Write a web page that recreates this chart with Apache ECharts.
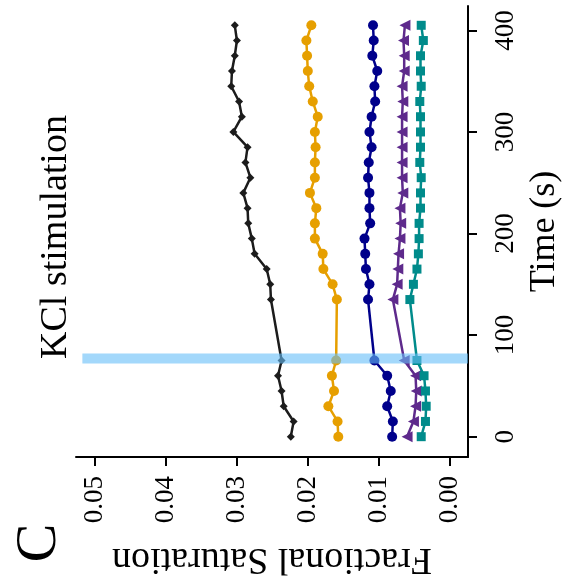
<!DOCTYPE html>
<html>
<head>
<meta charset="utf-8">
<script src="https://cdn.jsdelivr.net/npm/echarts@6/dist/echarts.min.js"></script>
<style>
  html, body { margin: 0; padding: 0; background: #fff; }
  #chart { width: 565px; height: 582px; }
</style>
</head>
<body>
<div id="chart"></div>
<script>
// Sampling times (s)
const times = [0, 15, 30, 45, 60, 75,
  135, 150, 165, 180, 195, 210, 225, 240, 255, 270, 285, 300, 315, 330, 345, 360, 375, 390, 405];

// Fractional saturation per trace
const satBlack = [0.0224, 0.0220, 0.0234, 0.0237, 0.0242, 0.0237,
  0.0252, 0.0253, 0.0258, 0.0275, 0.0279, 0.0284, 0.0285, 0.0291, 0.0281, 0.0288, 0.0285, 0.0305, 0.0293, 0.0297, 0.0308, 0.0307, 0.0303, 0.0300, 0.0303];
const satOrange = [0.0157, 0.0158, 0.0171, 0.0163, 0.0166, 0.0160,
  0.0159, 0.0165, 0.0178, 0.0179, 0.0190, 0.0190, 0.0188, 0.0197, 0.0190, 0.0190, 0.0189, 0.0190, 0.0186, 0.0193, 0.0198, 0.0200, 0.0201, 0.0202, 0.0195];
const satNavy = [0.0081, 0.0080, 0.0088, 0.0083, 0.0088, 0.0106,
  0.0115, 0.0113, 0.0118, 0.0119, 0.0120, 0.0112, 0.0113, 0.0113, 0.0115, 0.0114, 0.0110, 0.0113, 0.0110, 0.0105, 0.0106, 0.0102, 0.0109, 0.0107, 0.0108];
const satPurple = [0.0060, 0.0051, 0.0048, 0.0047, 0.0048, 0.0064,
  0.0080, 0.0074, 0.0073, 0.0072, 0.0070, 0.0069, 0.0070, 0.0066, 0.0067, 0.0067, 0.0067, 0.0067, 0.0067, 0.0066, 0.0067, 0.0064, 0.0064, 0.0065, 0.0063];
const satTeal = [0.0040, 0.0034, 0.0033, 0.0034, 0.0036, 0.0046,
  0.0056, 0.0051, 0.0046, 0.0044, 0.0043, 0.0043, 0.0041, 0.0041, 0.0040, 0.0042, 0.0041, 0.0041, 0.0041, 0.0042, 0.0040, 0.0041, 0.0041, 0.0037, 0.0040];

// Tick values
const satTicks = [0, 0.01, 0.02, 0.03, 0.04, 0.05];
const timeTicks = [0, 100, 200, 300, 400];

// Stimulation window (s)
const stimWindow = [72, 82];

const FONT = '"Liberation Serif", "Times New Roman", serif';

function pairs(sat) {
  return sat.map((v, i) => [v, times[i]]);
}

const traces = [
  { name: 'black', data: satBlack, color: '#1c1c1c', symbol: 'diamond', size: 8, rotate: 0 },
  { name: 'orange', data: satOrange, color: '#E69F00', symbol: 'circle', size: 10, rotate: 0 },
  { name: 'navy', data: satNavy, color: '#00008B', symbol: 'circle', size: 10, rotate: 0 },
  { name: 'purple', data: satPurple, color: '#5E2A8C', symbol: 'triangle', size: 11, rotate: 90 },
  { name: 'teal', data: satTeal, color: '#008B8B', symbol: 'rect', size: 9, rotate: 0 }
];

const series = traces.map(t => ({
  name: t.name,
  type: 'line',
  data: pairs(t.data),
  symbol: t.symbol,
  symbolSize: t.size,
  symbolRotate: t.rotate,
  showAllSymbol: true,
  lineStyle: { color: t.color, width: 2.5 },
  itemStyle: { color: t.color },
  emphasis: { disabled: true },
  animation: false
}));

// Translucent band over the stimulation window
series.push({
  name: 'stim',
  type: 'line',
  data: [],
  z: 10,
  animation: false,
  markArea: {
    silent: true,
    z: 10,
    itemStyle: { color: 'rgba(102,190,248,0.6)' },
    data: [[
      { xAxis: 0.0518, yAxis: stimWindow[0] },
      { xAxis: -0.0026, yAxis: stimWindow[1] }
    ]]
  }
});

const chart = echarts.init(document.getElementById('chart'), null, { renderer: 'canvas' });

chart.setOption({
  animation: false,
  backgroundColor: '#ffffff',
  grid: { left: 76, right: 97, top: 6, bottom: 125, containLabel: false, outerBoundsMode: 'none' },
  xAxis: {
    type: 'value',
    inverse: true,
    min: -0.0026,
    max: 0.0527,
    position: 'bottom',
    splitLine: { show: false },
    axisLine: { show: true, onZero: false, lineStyle: { color: '#000', width: 2 } },
    axisTick: { show: true, inside: false, length: 9, lineStyle: { color: '#000', width: 2 }, customValues: satTicks },
    axisLabel: {
      customValues: satTicks,
      rotate: 90,
      margin: 19,
      color: '#000',
      fontFamily: FONT,
      fontSize: 27,
      formatter: v => v.toFixed(2)
    },
    name: 'Fractional Saturation',
    nameLocation: 'middle',
    nameRotate: 180,
    nameGap: 83,
    nameTextStyle: { color: '#000', fontFamily: FONT, fontSize: 38 }
  },
  yAxis: {
    type: 'value',
    min: -20,
    max: 424,
    position: 'right',
    splitLine: { show: false },
    axisLine: { show: true, onZero: false, lineStyle: { color: '#000', width: 2 } },
    axisTick: { show: true, inside: false, length: 9, lineStyle: { color: '#000', width: 2 }, customValues: timeTicks },
    axisLabel: {
      customValues: timeTicks,
      rotate: 90,
      margin: 24,
      color: '#000',
      fontFamily: FONT,
      fontSize: 27
    },
    name: 'Time (s)',
    nameLocation: 'middle',
    nameRotate: 90,
    nameGap: 59,
    nameTextStyle: { color: '#000', fontFamily: FONT, fontSize: 36 }
  },
  graphic: [
    {
      type: 'text',
      x: 56,
      y: 237,
      rotation: Math.PI / 2,
      style: {
        text: 'KCl stimulation',
        font: '38px ' + FONT,
        fill: '#000',
        align: 'center',
        verticalAlign: 'middle'
      }
    },
    {
      type: 'text',
      x: 40,
      y: 543,
      rotation: Math.PI / 2,
      style: {
        text: 'C',
        font: '58px ' + FONT,
        fill: '#000',
        align: 'center',
        verticalAlign: 'middle'
      }
    }
  ],
  series: series
});
</script>
</body>
</html>
